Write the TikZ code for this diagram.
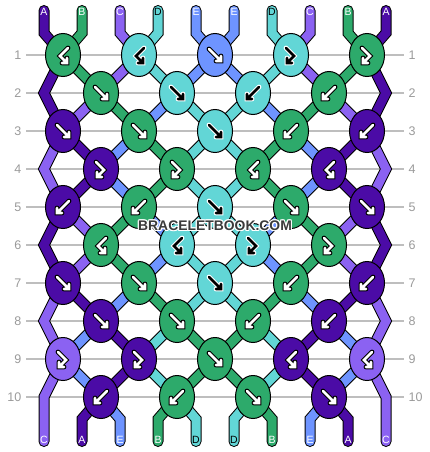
\documentclass[tikz,border=0pt]{standalone}
\usepackage{fontspec}
\setsansfont{Liberation Sans}
\usetikzlibrary{shapes.geometric}
\definecolor{cA}{HTML}{4B0BA6}
\definecolor{cB}{HTML}{2DAA6B}
\definecolor{cC}{HTML}{8B62F2}
\definecolor{cD}{HTML}{62D6D6}
\definecolor{cE}{HTML}{6E94FF}
\definecolor{gridc}{HTML}{BEBEBE}
\definecolor{numc}{HTML}{9A9A9A}
\definecolor{wmc}{HTML}{3A3A3A}
\pgfdeclarelayer{gridl}
\pgfdeclarelayer{toutl}
\pgfdeclarelayer{tinl}
\pgfsetlayers{gridl,toutl,tinl,main}
\tikzset{
 knot/.style={ellipse, draw=black, line width=1pt, minimum width=35pt, minimum height=43pt, inner sep=0pt},
 tout/.style={line width=11pt, draw=black, line cap=round, line join=miter},
 tin/.style={line width=9pt, line cap=round, line join=miter},
 aout/.style={line width=4.8pt, line cap=round, line join=miter},
 ain/.style={line width=2.6pt, line cap=round, line join=miter},
 gridline/.style={draw=gridc, line width=1.1pt},
 rownum/.style={font=\sffamily\fontsize{12.5}{14}\selectfont, text=numc, inner sep=0pt},
 slabel/.style={font=\sffamily\fontsize{10.5}{12}\selectfont, inner sep=0pt},
 wmtext/.style={font=\sffamily\bfseries\fontsize{13.9}{16}\selectfont, inner sep=0pt},
}
\newcommand\arrpath[4]{\draw[aout,draw=#2,shift={(#1.center)}] #4; \draw[ain,draw=#3,shift={(#1.center)}] #4;}
\newcommand\arrF[3]{\arrpath{#1}{#2}{#3}{(-6,-6)--(6,6) (1,6)--(6,6)--(6,1)}}
\newcommand\arrB[3]{\arrpath{#1}{#2}{#3}{(6,-6)--(-6,6) (-1,6)--(-6,6)--(-6,1)}}
\newcommand\arrFB[3]{\arrpath{#1}{#2}{#3}{(-5,-7)--(3,1)--(-4,8) (1,8)--(-4,8)--(-4,3)}}
\newcommand\arrBF[3]{\arrpath{#1}{#2}{#3}{(5,-7)--(-3,1)--(4,8) (-1,8)--(4,8)--(4,3)}}
\newcommand\knotat[7]{\node[knot,fill=#4] (#1) at (#2,#3) {}; \csname arr#5\endcsname{#1}{#6}{#7}}
\newcommand\thr[2]{\begin{pgfonlayer}{toutl}\draw[tout] #2;\end{pgfonlayer}\begin{pgfonlayer}{tinl}\draw[tin,draw=#1] #2;\end{pgfonlayer}}
\begin{document}
\begin{tikzpicture}[x=1pt,y=-1pt]
\useasboundingbox (0,0) rectangle (430,452);
% grid lines and row numbers
\begin{pgfonlayer}{gridl}
\foreach \r in {1,...,10}{
  \pgfmathsetmacro\yy{55+38*(\r-1)}
  \coordinate (gl\r) at (26,\yy);
  \coordinate (gr\r) at (404,\yy);
  \draw[gridline] (gl\r) -- (gr\r);
  \node[rownum,anchor=east] (nl\r) at (21.5,\yy) {\r};
  \node[rownum,anchor=west] (nr\r) at (408.5,\yy) {\r};
}
\end{pgfonlayer}
% strand end coordinates
\foreach \p in {0,...,9}{
  \pgfmathsetmacro\xx{44+38*\p}
  \coordinate (s\p) at (\xx,10.5);
  \coordinate (t\p) at (\xx,33);
  \coordinate (b\p) at (\xx,419);
  \coordinate (e\p) at (\xx,441.5);
}
\foreach \r in {2,4,6,8,10}{
  \pgfmathsetmacro\yy{55+38*(\r-1)}
  \coordinate (L\r) at (44,\yy);
  \coordinate (R\r) at (386,\yy);
}
% knots
\knotat{k1-0}{63}{55}{cB}{BF}{black}{white}
\knotat{k1-2}{139}{55}{cD}{BF}{white}{black}
\knotat{k1-4}{215}{55}{cE}{F}{black}{white}
\knotat{k1-6}{291}{55}{cD}{FB}{white}{black}
\knotat{k1-8}{367}{55}{cB}{FB}{black}{white}
\knotat{k2-1}{101}{93}{cB}{F}{black}{white}
\knotat{k2-3}{177}{93}{cD}{F}{white}{black}
\knotat{k2-5}{253}{93}{cD}{B}{white}{black}
\knotat{k2-7}{329}{93}{cB}{B}{black}{white}
\knotat{k3-0}{63}{131}{cA}{F}{black}{white}
\knotat{k3-2}{139}{131}{cB}{F}{black}{white}
\knotat{k3-4}{215}{131}{cD}{F}{white}{black}
\knotat{k3-6}{291}{131}{cB}{B}{black}{white}
\knotat{k3-8}{367}{131}{cA}{B}{black}{white}
\knotat{k4-1}{101}{169}{cA}{FB}{black}{white}
\knotat{k4-3}{177}{169}{cB}{FB}{black}{white}
\knotat{k4-5}{253}{169}{cB}{BF}{black}{white}
\knotat{k4-7}{329}{169}{cA}{BF}{black}{white}
\knotat{k5-0}{63}{207}{cA}{B}{black}{white}
\knotat{k5-2}{139}{207}{cB}{B}{black}{white}
\knotat{k5-4}{215}{207}{cD}{F}{white}{black}
\knotat{k5-6}{291}{207}{cB}{F}{black}{white}
\knotat{k5-8}{367}{207}{cA}{F}{black}{white}
\knotat{k6-1}{101}{245}{cB}{BF}{black}{white}
\knotat{k6-3}{177}{245}{cD}{BF}{white}{black}
\knotat{k6-5}{253}{245}{cD}{FB}{white}{black}
\knotat{k6-7}{329}{245}{cB}{FB}{black}{white}
\knotat{k7-0}{63}{283}{cA}{F}{black}{white}
\knotat{k7-2}{139}{283}{cB}{F}{black}{white}
\knotat{k7-4}{215}{283}{cD}{F}{white}{black}
\knotat{k7-6}{291}{283}{cB}{B}{black}{white}
\knotat{k7-8}{367}{283}{cA}{B}{black}{white}
\knotat{k8-1}{101}{321}{cA}{F}{black}{white}
\knotat{k8-3}{177}{321}{cB}{F}{black}{white}
\knotat{k8-5}{253}{321}{cB}{B}{black}{white}
\knotat{k8-7}{329}{321}{cA}{B}{black}{white}
\knotat{k9-0}{63}{359}{cC}{FB}{black}{white}
\knotat{k9-2}{139}{359}{cA}{FB}{black}{white}
\knotat{k9-4}{215}{359}{cB}{F}{black}{white}
\knotat{k9-6}{291}{359}{cA}{BF}{black}{white}
\knotat{k9-8}{367}{359}{cC}{BF}{black}{white}
\knotat{k10-1}{101}{397}{cA}{B}{black}{white}
\knotat{k10-3}{177}{397}{cB}{B}{black}{white}
\knotat{k10-5}{253}{397}{cB}{F}{black}{white}
\knotat{k10-7}{329}{397}{cA}{F}{black}{white}
% threads
\thr{cA}{(s0)--(t0)--(k1-0.center)--(L2)--(k3-0.center)--(k4-1.center)--(k5-0.center)--(L6)--(k7-0.center)--(k8-1.center)--(k9-2.center)--(k10-1.center)--(b1)--(e1)}
\thr{cB}{(s1)--(t1)--(k1-0.center)--(k2-1.center)--(k3-2.center)--(k4-3.center)--(k5-2.center)--(k6-1.center)--(k7-2.center)--(k8-3.center)--(k9-4.center)--(k10-3.center)--(b3)--(e3)}
\thr{cC}{(s2)--(t2)--(k1-2.center)--(k2-1.center)--(k3-0.center)--(L4)--(k5-0.center)--(k6-1.center)--(k7-0.center)--(L8)--(k9-0.center)--(L10)--(e0)}
\thr{cD}{(s3)--(t3)--(k1-2.center)--(k2-3.center)--(k3-4.center)--(k4-3.center)--(k5-4.center)--(k6-3.center)--(k7-4.center)--(k8-3.center)--(k9-2.center)--(k10-3.center)--(b4)--(e4)}
\thr{cE}{(s4)--(t4)--(k1-4.center)--(k2-3.center)--(k3-2.center)--(k4-1.center)--(k5-2.center)--(k6-3.center)--(k7-2.center)--(k8-1.center)--(k9-0.center)--(k10-1.center)--(b2)--(e2)}
\thr{cA}{(s9)--(t9)--(k1-8.center)--(R2)--(k3-8.center)--(k4-7.center)--(k5-8.center)--(R6)--(k7-8.center)--(k8-7.center)--(k9-6.center)--(k10-7.center)--(b8)--(e8)}
\thr{cB}{(s8)--(t8)--(k1-8.center)--(k2-7.center)--(k3-6.center)--(k4-5.center)--(k5-6.center)--(k6-7.center)--(k7-6.center)--(k8-5.center)--(k9-4.center)--(k10-5.center)--(b6)--(e6)}
\thr{cC}{(s7)--(t7)--(k1-6.center)--(k2-7.center)--(k3-8.center)--(R4)--(k5-8.center)--(k6-7.center)--(k7-8.center)--(R8)--(k9-8.center)--(R10)--(e9)}
\thr{cD}{(s6)--(t6)--(k1-6.center)--(k2-5.center)--(k3-4.center)--(k4-5.center)--(k5-4.center)--(k6-5.center)--(k7-4.center)--(k8-5.center)--(k9-6.center)--(k10-5.center)--(b5)--(e5)}
\thr{cE}{(s5)--(t5)--(k1-4.center)--(k2-5.center)--(k3-6.center)--(k4-7.center)--(k5-6.center)--(k6-5.center)--(k7-6.center)--(k8-7.center)--(k9-8.center)--(k10-7.center)--(b7)--(e7)}
% strand end labels
\foreach \p/\l/\c in {0/A/white,1/B/white,2/C/white,3/D/black,4/E/white,5/E/white,6/D/black,7/C/white,8/B/white,9/A/white}{
  \node[slabel,text=\c] (top\p) at ({44+38*\p},12) {\l};
}
\foreach \p/\l/\c in {0/C/white,1/A/white,2/E/white,3/B/white,4/D/black,5/D/black,6/B/white,7/E/white,8/A/white,9/C/white}{
  \node[slabel,text=\c] (bot\p) at ({44+38*\p},440) {\l};
}
% watermark
\foreach \dx/\dy [count=\i] in {1.2/0,-1.2/0,0/1.2,0/-1.2,0.9/0.9,-0.9/0.9,0.9/-0.9,-0.9/-0.9}{
  \node[wmtext,text=white] (wmh\i) at ({215+\dx},{225.5+\dy}) {BRACELETBOOK.COM};
}
\node[wmtext,text=wmc] (wm) at (215,225.5) {BRACELETBOOK.COM};
\end{tikzpicture}
\end{document}
